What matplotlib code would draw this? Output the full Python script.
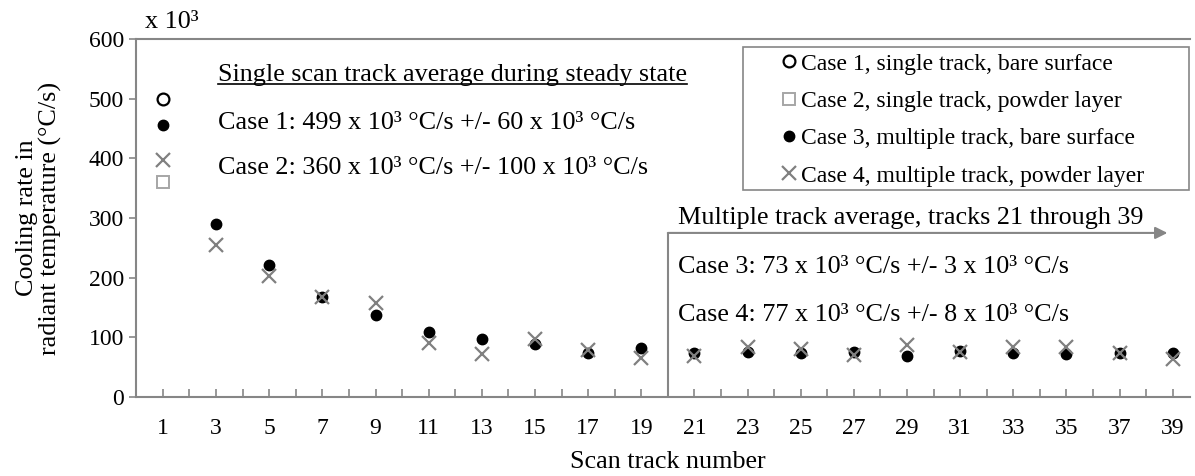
import numpy as np
import matplotlib
matplotlib.use('Agg')
import matplotlib.pyplot as plt
from matplotlib.lines import Line2D
from matplotlib.patches import Rectangle

plt.rcParams['font.family'] = ['Liberation Serif', 'DejaVu Serif']

# Scan track numbers and cooling rates (x 10^3 degC/s)
case1_tracks = [1]
case1_rates = [499]
case2_tracks = [1]
case2_rates = [360]
multi_tracks = list(range(1, 40, 2))
case3_rates = [456, 290, 221, 168, 137, 109, 97, 88, 73, 82,
               74, 76, 73, 76, 68, 77, 74, 72, 74, 73]
case4_rates = [397, 254, 203, 168, 158, 91, 72, 98, 79, 65,
               69, 84, 80, 70, 87, 75, 84, 84, 73, 63]

tick_labels = [str(t) for t in multi_tracks]
legend_labels = ['Case 1, single track, bare surface',
                 'Case 2, single track, powder layer',
                 'Case 3, multiple track, bare surface',
                 'Case 4, multiple track, powder layer']

split_track = 20
arrow_end = 38.8
arrow_y = 275

axis_gray = '#868686'
W, H = 1195, 476
tick_fs = 17
note_fs = 18.8
leg_fs = 17

fig = plt.figure(figsize=(W / 100, H / 100), dpi=100)
ax = fig.add_axes([0.1141, 0.166, 0.8817, 0.752])

h1, = ax.plot(case1_tracks, case1_rates, 'o', ms=8.5, mfc='white', mec='black', mew=1.6, ls='none')
h2, = ax.plot(case2_tracks, case2_rates, 's', ms=9, mfc='white', mec='#a6a6a6', mew=1.4, ls='none')
h3, = ax.plot(multi_tracks, case3_rates, 'o', ms=7.5, color='black', ls='none')
h4, = ax.plot(multi_tracks, case4_rates, 'x', ms=9.5, mec='#808080', mew=1.6, ls='none')

ax.set_xlim(0, 39.65)
ax.set_ylim(0, 600)
ax.set_yticks(np.arange(0, 601, 100))
ax.set_xticks(multi_tracks)
ax.set_xticklabels(tick_labels)
ax.set_xticks(range(0, 40), minor=True)

for side in ['left', 'bottom', 'top']:
    ax.spines[side].set_color(axis_gray)
    ax.spines[side].set_linewidth(1.5)
ax.spines['right'].set_visible(False)

ax.tick_params(axis='x', which='both', direction='in', length=6, width=1.2, color=axis_gray,
               labelsize=tick_fs, pad=15)
ax.tick_params(axis='y', direction='out', length=5, width=1.2, color=axis_gray,
               labelsize=tick_fs, pad=4)

fig.text(668 / W, 1 - 462 / H, 'Scan track number', fontsize=note_fs, ha='center', va='center')
fig.text(39 / W, 1 - 218 / H, 'Cooling rate in\nradiant temperature (\u00b0C/s)', fontsize=note_fs,
         rotation=90, ha='center', va='center', multialignment='center', linespacing=1.05)
fig.text(145 / W, 1 - 22 / H, 'x 10\u00b3', fontsize=note_fs, ha='left', va='center')

# Divider between single and multiple track regions
ax.vlines(split_track, 0, arrow_y, color=axis_gray, lw=1.5)
ax.annotate('', xy=(arrow_end, arrow_y), xytext=(split_track, arrow_y),
            arrowprops=dict(arrowstyle='-|>', color=axis_gray, lw=1.5, mutation_scale=18,
                            shrinkA=0, shrinkB=0))

title = ax.text(3.07, 540, 'Single scan track average during steady state', fontsize=note_fs,
                ha='left', va='center')
ax.text(3.07, 459, 'Case 1: 499 x 10\u00b3 \u00b0C/s +/- 60 x 10\u00b3 \u00b0C/s', fontsize=note_fs,
        ha='left', va='center')
ax.text(3.07, 384, 'Case 2: 360 x 10\u00b3 \u00b0C/s +/- 100 x 10\u00b3 \u00b0C/s', fontsize=note_fs,
        ha='left', va='center')
ax.text(20.4, 300, 'Multiple track average, tracks 21 through 39', fontsize=note_fs,
        ha='left', va='center')
ax.text(20.4, 218, 'Case 3: 73 x 10\u00b3 \u00b0C/s +/- 3 x 10\u00b3 \u00b0C/s', fontsize=note_fs,
        ha='left', va='center')
ax.text(20.4, 137, 'Case 4: 77 x 10\u00b3 \u00b0C/s +/- 8 x 10\u00b3 \u00b0C/s', fontsize=note_fs,
        ha='left', va='center')

leg = fig.legend([h1, h2, h3, h4], legend_labels, loc='upper left',
                 bbox_to_anchor=(783 / W, 1 - 53 / H), fontsize=leg_fs, frameon=False,
                 handlelength=0.5, handletextpad=0.26, borderpad=0, labelspacing=0.67,
                 borderaxespad=0)
fig.add_artist(Rectangle((743 / W, 1 - 190 / H), 446 / W, 143 / H, transform=fig.transFigure,
                         fill=False, edgecolor=axis_gray, lw=1.2))

# underline the single-track heading
fig.canvas.draw()
bb = title.get_window_extent().transformed(fig.transFigure.inverted())
fig.add_artist(Line2D([bb.x0, bb.x1], [bb.y0 + 0.004, bb.y0 + 0.004], color='black', lw=1.2,
                      transform=fig.transFigure))

fig.savefig('out.png', dpi=100)
